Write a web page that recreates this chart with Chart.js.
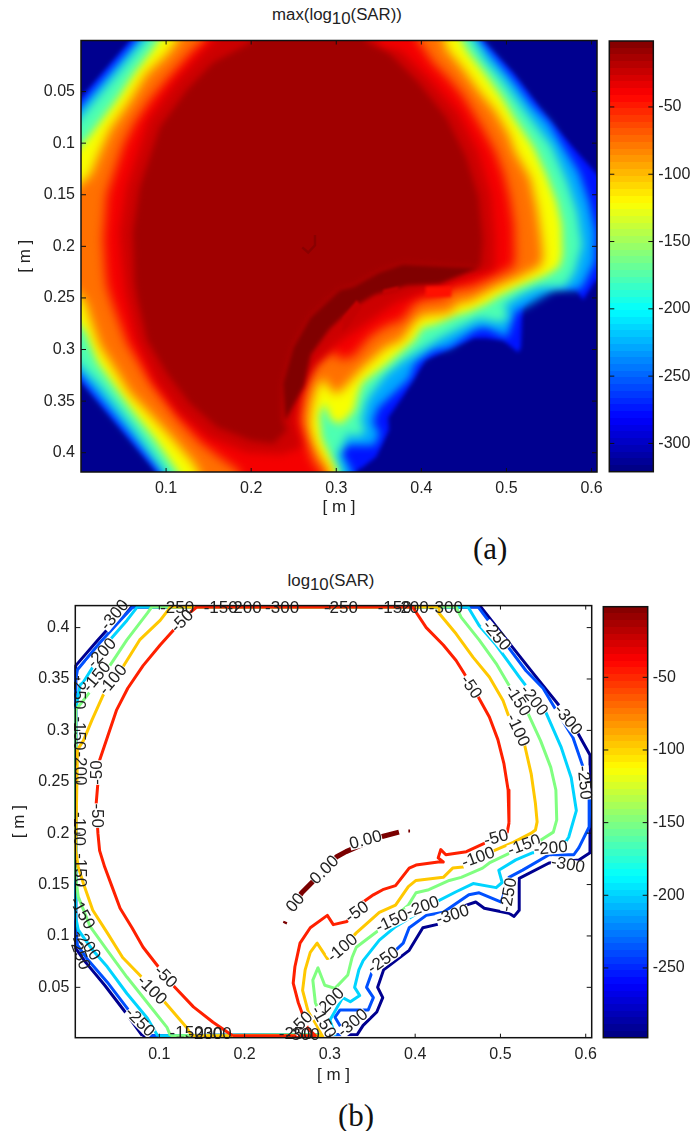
<!DOCTYPE html>
<html>
<head>
<meta charset="utf-8">
<style>
  html, body { margin: 0; padding: 0; background: #fff; }
  body { position: relative; width: 692px; height: 1131px; overflow: hidden; font-family: "Liberation Sans", Arial, sans-serif; color: #222; }
  canvas { position: absolute; }
  .title { position: absolute; font-size: 16px; line-height: 18px; white-space: nowrap; transform: translateX(-50%) scaleX(1.05); }
  .title sub { font-size: 16px; line-height: 0; vertical-align: -4px; }
  .caption { position: absolute; font-family: "Liberation Serif", "Times New Roman", serif; font-size: 31px; line-height: 36px; color: #111; }
</style>
</head>
<body>
<div class="title" style="left:337px;top:6px">max(log<sub>10</sub>(SAR))</div>
<div class="title" style="left:331px;top:572px">log<sub>10</sub>(SAR)</div>
<div class="caption" style="left:473px;top:531px">(a)</div>
<div class="caption" style="left:338px;top:1098px">(b)</div>
<canvas id="chartMax" width="640" height="530" style="left:0;top:0"></canvas>
<canvas id="barMax" width="92" height="530" style="left:600px;top:0"></canvas>
<canvas id="chartLog" width="640" height="500" style="left:0;top:590px"></canvas>
<canvas id="barLog" width="92" height="500" style="left:600px;top:590px"></canvas>

<script src="https://cdn.jsdelivr.net/npm/chart.js@4"></script>
<script>
// --- Axis ticks ---
const xTicks       = [0.1, 0.2, 0.3, 0.4, 0.5, 0.6];
const maxYTicks    = [0.05, 0.1, 0.15, 0.2, 0.25, 0.3, 0.35, 0.4];
const logYTicks    = [0.05, 0.1, 0.15, 0.2, 0.25, 0.3, 0.35, 0.4];
const maxBarTicks  = [-300, -250, -200, -150, -100, -50];
const logBarTicks  = [-250, -200, -150, -100, -50];

// --- (a) max(log10(SAR)): nested level regions, [x, y] in metres ---
const maxLevel300 = [[-.03,.085],[.09,-.03],[.45,-.03],[.474,.002],[.508,.032],[.546,.073],[.578,.104],[.605,.129],[.64,.16],[.64,.235],[.605,.233],[.590,.252],[.582,.242],[.558,.240],[.535,.242],[.519,.259],[.517,.298],[.514,.303],[.496,.291],[.476,.289],[.461,.289],[.405,.310],[.396,.322],[.378,.346],[.361,.366],[.362,.378],[.347,.404],[.331,.414],[.323,.418],[.31,.45],[.11,.45],[.087,.417],[.002,.333],[-.03,.30]];
const maxLevel250 = [[-.03,.093],[.097,-.03],[.44,-.03],[.468,0],[.510,.041],[.530,.063],[.550,.080],[.565,.101],[.585,.128],[.597,.157],[.605,.186],[.604,.215],[.592,.235],[.586,.242],[.557,.242],[.526,.257],[.510,.264],[.501,.288],[.475,.279],[.463,.281],[.433,.298],[.413,.301],[.393,.313],[.386,.328],[.349,.357],[.343,.371],[.351,.381],[.345,.393],[.312,.393],[.306,.400],[.318,.417],[.32,.45],[.118,.45],[.093,.418],[.004,.330],[-.03,.295]];
const maxLevel200 = [[-.03,.105],[.105,-.03],[.44,-.03],[.462,.001],[.475,.019],[.495,.038],[.522,.069],[.553,.103],[.571,.137],[.583,.167],[.589,.199],[.580,.225],[.569,.239],[.538,.240],[.518,.247],[.498,.257],[.502,.269],[.495,.274],[.468,.270],[.448,.278],[.422,.289],[.377,.312],[.358,.325],[.339,.345],[.334,.354],[.329,.371],[.335,.379],[.324,.385],[.315,.381],[.300,.403],[.306,.417],[.31,.45],[.125,.45],[.098,.418],[.062,.377],[.022,.335],[-.03,.29]];
const maxLevel150 = [[-.03,.13],[.009,.094],[.042,.058],[.062,.033],[.086,.007],[.091,0],[.12,-.03],[.43,-.03],[.448,.001],[.454,.011],[.475,.033],[.495,.056],[.510,.077],[.532,.104],[.547,.131],[.559,.157],[.565,.179],[.566,.208],[.562,.220],[.547,.228],[.512,.240],[.487,.250],[.479,.255],[.454,.264],[.440,.267],[.416,.276],[.401,.279],[.392,.291],[.358,.315],[.331,.332],[.326,.342],[.321,.359],[.306,.372],[.294,.369],[.286,.352],[.280,.364],[.283,.386],[.300,.417],[.305,.45],[.135,.45],[.113,.418],[.086,.386],[.062,.361],[.039,.335],[.019,.312],[.005,.283],[-.03,.25]];
const maxLevel100 = [[-.03,.16],[.011,.131],[.021,.111],[.034,.087],[.056,.061],[.077,.033],[.101,.014],[.113,.001],[.13,-.03],[.41,-.03],[.428,.001],[.428,.007],[.448,.027],[.468,.050],[.487,.069],[.503,.092],[.510,.108],[.528,.134],[.536,.163],[.541,.192],[.543,.210],[.541,.218],[.536,.221],[.515,.230],[.487,.240],[.456,.254],[.444,.255],[.433,.264],[.401,.267],[.392,.273],[.377,.291],[.358,.298],[.331,.318],[.306,.340],[.297,.343],[.285,.328],[.277,.337],[.271,.354],[.268,.374],[.274,.393],[.288,.413],[.292,.418],[.3,.45],[.15,.45],[.138,.418],[.132,.410],[.104,.383],[.077,.359],[.057,.342],[.039,.318],[.022,.296],[.011,.270],[.005,.254],[-.03,.22]];
const maxLevel50  = [[.026,.192],[.028,.172],[.030,.150],[.039,.128],[.050,.101],[.063,.080],[.081,.058],[.101,.038],[.116,.024],[.132,.009],[.144,.001],[.16,-.03],[.38,-.03],[.397,.001],[.413,.021],[.433,.038],[.448,.053],[.457,.065],[.475,.090],[.487,.108],[.497,.130],[.504,.153],[.509,.179],[.510,.211],[.508,.220],[.481,.231],[.460,.239],[.436,.242],[.427,.249],[.401,.252],[.393,.255],[.377,.272],[.362,.276],[.351,.281],[.339,.288],[.320,.307],[.304,.310],[.297,.301],[.277,.313],[.265,.328],[.259,.351],[.257,.367],[.263,.386],[.274,.411],[.283,.418],[.285,.45],[.19,.45],[.186,.418],[.163,.405],[.140,.390],[.116,.369],[.097,.349],[.081,.332],[.068,.313],[.054,.294],[.045,.274],[.036,.254],[.030,.238],[.028,.221]];
const maxLevel35  = [[.045,.187],[.053,.143],[.079,.078],[.112,.04],[.143,.012],[.19,-.03],[.345,-.03],[.35,.005],[.376,.01],[.41,.038],[.443,.07],[.467,.108],[.482,.15],[.487,.194],[.486,.222],[.44,.235],[.40,.245],[.37,.255],[.335,.275],[.30,.295],[.275,.315],[.258,.345],[.252,.37],[.26,.395],[.235,.402],[.195,.40],[.15,.385],[.115,.36],[.088,.33],[.065,.29],[.052,.245],[.048,.215]];
const maxLevel20  = [[.061,.187],[.069,.143],[.093,.084],[.125,.048],[.155,.022],[.199,.003],[.21,-.03],[.33,-.03],[.335,.002],[.362,.013],[.397,.042],[.429,.075],[.452,.113],[.467,.152],[.472,.194],[.470,.216],[.468,.221],[.422,.219],[.378,.217],[.350,.225],[.320,.239],[.304,.242],[.269,.269],[.249,.298],[.237,.333],[.237,.369],[.242,.378],[.226,.391],[.199,.388],[.160,.375],[.128,.352],[.101,.323],[.078,.291],[.066,.249],[.063,.233]];
const maxCrescent = [[.468,.221],[.422,.219],[.378,.217],[.350,.225],[.320,.239],[.304,.242],[.269,.269],[.249,.298],[.237,.333],[.240,.369],[.262,.335],[.270,.305],[.292,.280],[.318,.26],[.345,.247],[.383,.238],[.422,.236],[.461,.223]];
const maxStreak   = [[.324,.252],[.330,.259],[.314,.278],[.307,.283],[.308,.269]];
const maxSpot     = [[.355,.242],[.373,.239],[.373,.244],[.355,.247]];
const maxPatch    = [[.405,.239],[.435,.239],[.435,.249],[.405,.249]];
const maxRing     = [[.275,.189],[.275,.199],[.267,.206],[.260,.201]];

// --- (b) log10(SAR): contour lines, [x, y] in metres ---
const contour300 = [[.080,.003],[.060,.026],[.036,.052],[.013,.075],[.002,.088],[.002,.363],[.028,.388],[.052,.410],[.066,.420],[.477,.420],[.515,.380],[.538,.356],[.569,.324],[.591,.297],[.605,.276],[.605,.181],[.592,.174],[.557,.171],[.522,.156],[.522,.125],[.516,.119],[.510,.122],[.481,.127],[.471,.133],[.460,.130],[.430,.112],[.409,.108],[.393,.086],[.363,.067],[.356,.050],[.362,.040],[.355,.026],[.339,.013],[.332,.004],[.080,.003]];
const contour250 = [[.087,.003],[.062,.030],[.039,.055],[.016,.077],[.004,.091],[.002,.109],[.002,.349],[.004,.359],[.030,.385],[.054,.407],[.069,.420],[.474,.420],[.510,.380],[.530,.358],[.550,.341],[.565,.320],[.585,.293],[.597,.264],[.605,.235],[.604,.206],[.592,.186],[.586,.179],[.557,.179],[.526,.164],[.510,.157],[.501,.133],[.475,.142],[.463,.140],[.433,.123],[.413,.120],[.393,.108],[.386,.093],[.349,.064],[.343,.050],[.351,.040],[.345,.028],[.312,.028],[.306,.021],[.318,.004],[.087,.003]];
const contour200 = [[.098,.003],[.086,.020],[.062,.044],[.039,.070],[.022,.086],[.005,.106],[.002,.118],[.002,.320],[.007,.344],[.011,.347],[.042,.388],[.062,.407],[.074,.420],[.462,.420],[.475,.402],[.495,.383],[.522,.352],[.553,.318],[.571,.284],[.583,.254],[.589,.222],[.580,.196],[.569,.182],[.538,.181],[.518,.174],[.498,.164],[.502,.152],[.495,.147],[.468,.151],[.448,.143],[.422,.132],[.377,.109],[.358,.096],[.339,.076],[.334,.067],[.329,.050],[.335,.042],[.324,.036],[.315,.040],[.300,.018],[.306,.004],[.098,.003]];
const contour150 = [[.113,.003],[.109,.011],[.086,.035],[.062,.060],[.039,.086],[.019,.109],[.005,.138],[.002,.157],[.002,.320],[.009,.327],[.042,.363],[.062,.388],[.086,.414],[.091,.420],[.448,.420],[.454,.410],[.475,.388],[.495,.365],[.510,.344],[.532,.317],[.547,.290],[.559,.264],[.565,.242],[.566,.213],[.562,.201],[.547,.193],[.512,.181],[.487,.171],[.479,.166],[.454,.157],[.440,.154],[.416,.145],[.401,.142],[.392,.130],[.358,.106],[.331,.089],[.326,.079],[.321,.062],[.306,.049],[.294,.052],[.286,.069],[.280,.057],[.283,.035],[.300,.004],[.113,.003]];
const contour100 = [[.138,.003],[.132,.011],[.104,.038],[.077,.062],[.057,.079],[.039,.103],[.022,.125],[.011,.151],[.005,.167],[.002,.183],[.004,.281],[.011,.290],[.021,.310],[.034,.334],[.056,.360],[.077,.388],[.101,.407],[.113,.420],[.428,.420],[.428,.414],[.448,.394],[.468,.371],[.487,.352],[.503,.329],[.510,.313],[.528,.287],[.536,.258],[.541,.229],[.543,.211],[.541,.203],[.536,.200],[.515,.191],[.487,.181],[.456,.167],[.444,.166],[.433,.157],[.401,.154],[.392,.148],[.377,.130],[.358,.123],[.331,.103],[.306,.081],[.297,.078],[.285,.093],[.277,.084],[.271,.067],[.268,.047],[.274,.028],[.288,.008],[.292,.003],[.138,.003]];
const contour50  = [[.186,.003],[.163,.016],[.140,.031],[.116,.052],[.097,.072],[.081,.089],[.068,.108],[.054,.127],[.045,.147],[.036,.167],[.030,.183],[.028,.200],[.026,.229],[.028,.249],[.030,.271],[.039,.293],[.050,.320],[.063,.341],[.081,.363],[.101,.383],[.116,.397],[.132,.412],[.144,.420],[.397,.420],[.413,.400],[.433,.383],[.448,.368],[.457,.356],[.475,.331],[.487,.313],[.497,.291],[.504,.268],[.509,.242],[.510,.210],[.508,.201],[.481,.190],[.460,.182],[.436,.179],[.430,.184],[.427,.176],[.433,.172],[.427,.172],[.401,.169],[.393,.166],[.377,.149],[.362,.145],[.351,.140],[.339,.133],[.320,.114],[.304,.111],[.297,.120],[.277,.108],[.265,.093],[.259,.070],[.257,.054],[.263,.035],[.274,.010],[.283,.003],[.186,.003]];
const contourTip1 = [[.247,.112],[.248,.114]];
const contourTip2 = [[.253,.125],[.267,.142],[.285,.157],[.308,.177],[.319,.182],[.358,.196],[.381,.201]];
const contourTip3 = [[.392,.202],[.394,.202]];

// contour labels: [text, x, y, rotation in degrees]
const lineLabels = [
  ["-300",.048,.412,-50],["-200",.033,.375,-47],["-150",.027,.352,-50],["-100",.046,.349,-50],
  ["-50",.127,.406,-45],["-50",.027,.259,-90],["-50",.027,.217,90],
  ["-250",.495,.392,50],["-50",.465,.342,55],["-150",.520,.329,58],["-200",.539,.329,52],
  ["-100",.520,.300,65],["-300",.579,.310,50],["-250",.598,.249,85],
  ["-50",.495,.195,-15],["-100",.474,.176,-20],["-150",.528,.188,-20],["-200",.559,.185,-5],
  ["-300",.579,.169,10],["-250",.510,.140,-80],["-300",.444,.120,-18],["-200",.409,.128,-20],
  ["-150",.373,.114,-25],["-250",.363,.076,-35],["-50",.332,.123,-35],["-100",.315,.088,-40],
  ["-200",.300,.035,-45],["-150",.292,.016,60],["-300",.327,.015,-40],["-50",.267,.015,-45],
  ["-50",.107,.060,45],["-100",.091,.047,45],["-250",.077,.016,45],
  ["00",.260,.132,-50],["0.00",.294,.164,-45],["0.00",.342,.193,-15]
];
const edgeLabels = [
  ["-250",.121,.419,0],["-150",.172,.419,0],["-200",.200,.419,0],["-300",.244,.419,0],
  ["-250",.313,.419,0],["-150",.376,.419,0],["-200",.396,.419,0],["-300",.436,.419,0],
  ["-250",.005,.337,90],["-150",.005,.297,90],["-200",.007,.263,90],["-100",.006,.204,90],
  ["-150",.007,.164,90],["-150",.009,.122,60],["-200",.015,.091,55],["-250",.006,.083,70],
  ["-250",.260,.004,0],["-300",.268,.003,0],["-150",.132,.005,0],["-200",.154,.004,0],["-300",.165,.004,0]
];

// --- Colour helpers ---
function jet(t) {
  const c = v => Math.round(255 * Math.max(0, Math.min(1, v)));
  return `rgb(${c(1.5 - Math.abs(4 * t - 3))},${c(1.5 - Math.abs(4 * t - 2))},${c(1.5 - Math.abs(4 * t - 1))})`;
}

function barGradient(context) {
  const { chart } = context;
  const area = chart.chartArea;
  if (!area || !Number.isFinite(area.top)) return "#800000";
  const g = chart.ctx.createLinearGradient(0, area.bottom, 0, area.top);
  for (let i = 0; i < 64; i++) {
    g.addColorStop(i / 64, jet((i + 0.5) / 64));
    g.addColorStop((i + 1) / 64, jet((i + 0.5) / 64));
  }
  return g;
}

const pts = list => list.map(([x, y]) => ({ x, y }));

// --- Plugins ---
const regionFill = {
  id: "regionFill",
  beforeDatasetsDraw(chart) {
    const { ctx, chartArea: a } = chart;
    ctx.save();
    ctx.beginPath();
    ctx.rect(a.left, a.top, a.right - a.left, a.bottom - a.top);
    ctx.clip();
    ctx.fillStyle = "#00008f";
    ctx.fillRect(a.left, a.top, a.right - a.left, a.bottom - a.top);
    chart.data.datasets.forEach((ds, i) => {
      if (!ds.region) return;
      const points = chart.getDatasetMeta(i).data;
      ctx.filter = `blur(${ds.soft}px)`;
      ctx.fillStyle = ds.region;
      ctx.beginPath();
      points.forEach((p, k) => k ? ctx.lineTo(p.x, p.y) : ctx.moveTo(p.x, p.y));
      ctx.closePath();
      ctx.fill();
    });
    ctx.restore();
  }
};

const contourText = {
  id: "contourText",
  afterDatasetsDraw(chart) {
    if (chart.canvas.id !== "chartLog") return;
    const { ctx, scales } = chart;
    const draw = (item, backed) => {
      const [text, x, y, rot] = item;
      ctx.save();
      ctx.translate(scales.x.getPixelForValue(x), scales.y.getPixelForValue(y));
      ctx.rotate(rot * Math.PI / 180);
      ctx.font = '17px "Liberation Sans"';
      ctx.textAlign = "center";
      ctx.textBaseline = "middle";
      if (backed) {
        const w = ctx.measureText(text).width;
        ctx.fillStyle = "#fff";
        ctx.fillRect(-w / 2, -6, w, 12);
      }
      ctx.fillStyle = "#222";
      ctx.fillText(text, 0, 0);
      ctx.restore();
    };
    lineLabels.forEach(l => draw(l, true));
    edgeLabels.forEach(l => draw(l, false));
  }
};

// box plus inward tick marks, on all sides like MATLAB
const frameTicks = {
  id: "frameTicks",
  afterDraw(chart) {
    const { ctx, chartArea: a, scales } = chart;
    const len = 4;
    ctx.save();
    ctx.strokeStyle = "#111";
    ctx.lineWidth = 1;
    ctx.beginPath();
    if (scales.x && scales.x.type === "linear") {
      scales.x.ticks.forEach(t => {
        const px = scales.x.getPixelForValue(t.value);
        ctx.moveTo(px, a.top); ctx.lineTo(px, a.top + len);
        ctx.moveTo(px, a.bottom); ctx.lineTo(px, a.bottom - len);
      });
    }
    scales.y.ticks.forEach(t => {
      const py = scales.y.getPixelForValue(t.value);
      ctx.moveTo(a.left, py); ctx.lineTo(a.left + len + 1, py);
      ctx.moveTo(a.right, py); ctx.lineTo(a.right - len - 1, py);
    });
    ctx.stroke();
    ctx.lineWidth = 1.5;
    ctx.strokeRect(a.left, a.top, a.right - a.left, a.bottom - a.top);
    ctx.restore();
  }
};

Chart.defaults.font.family = '"Liberation Sans", Arial, sans-serif';
Chart.defaults.font.size   = 16;
Chart.defaults.color       = "#222";

// --- Chart builders ---
function plotChart(id, datasets, opt) {
  return new Chart(document.getElementById(id), {
    type: "scatter",
    data: { datasets },
    plugins: [regionFillIf(opt.filled), contourText, frameTicks],
    options: {
      responsive: false,
      animation: false,
      devicePixelRatio: 1,
      events: [],
      layout: { autoPadding: false, padding: { top: opt.top, right: opt.right, left: 0, bottom: 0 } },
      plugins: { legend: { display: false }, tooltip: { enabled: false } },
      scales: {
        x: {
          type: "linear", min: opt.xMin, max: opt.xMax,
          grid: { display: false, drawTicks: false }, border: { display: false },
          ticks: { padding: 7, maxRotation: 0, minRotation: 0, autoSkip: false, callback: v => String(v) },
          afterBuildTicks: s => { s.ticks = xTicks.map(value => ({ value })); },
          afterFit: s => { s.height = opt.xHeight; },
          title: { display: true, text: "[ m ]", font: { size: 17 }, color: "#222", padding: { top: 0, bottom: opt.xTitlePad } }
        },
        y: {
          type: "linear", min: opt.yMin, max: opt.yMax, reverse: opt.reverse,
          grid: { display: false, drawTicks: false }, border: { display: false },
          ticks: { padding: 6, autoSkip: false, callback: v => String(v) },
          afterBuildTicks: s => { s.ticks = opt.yTicks.map(value => ({ value })); },
          afterFit: s => { s.width = opt.left; },
          title: { display: true, text: "[ m ]", font: { size: 17 }, color: "#222", padding: { top: opt.yTitlePad, bottom: 0 } }
        }
      }
    }
  });
}

function regionFillIf(filled) {
  return filled ? regionFill : { id: "noRegion" };
}

function barChart(id, low, high, ticks, opt) {
  return new Chart(document.getElementById(id), {
    type: "bar",
    data: {
      labels: [""],
      datasets: [{ data: [[low, high]], backgroundColor: barGradient, categoryPercentage: 1, barPercentage: 1 }]
    },
    plugins: [frameTicks],
    options: {
      responsive: false,
      animation: false,
      devicePixelRatio: 1,
      events: [],
      layout: { autoPadding: false, padding: { top: opt.top, left: opt.left, right: 0, bottom: opt.bottom } },
      plugins: { legend: { display: false }, tooltip: { enabled: false } },
      scales: {
        x: { display: false },
        y: {
          position: "right", min: low, max: high,
          grid: { display: false, drawTicks: false }, border: { display: false },
          ticks: { padding: 5, autoSkip: false, callback: v => String(v) },
          afterBuildTicks: s => { s.ticks = ticks.map(value => ({ value })); },
          afterFit: s => { s.width = opt.width; }
        }
      }
    }
  });
}

// --- (a) ---
function region(list, colour, soft) {
  return { data: pts(list), region: colour, soft, pointRadius: 0, showLine: false };
}

plotChart("chartMax", [
  region(maxLevel300, "#0014ff", 2),
  region(maxLevel250, "#00a8ff", 4.5),
  region(maxLevel200, "#4dffb2", 5),
  region(maxLevel150, "#f8ff00", 4.5),
  region(maxLevel100, "#ff7000", 5.5),
  region(maxLevel50,  "#f50000", 5.5),
  region(maxLevel35,  "#cc0000", 4),
  region(maxLevel20,  "#a00000", 3),
  region(maxCrescent, "#800000", 2),
  region(maxStreak,   "#c40000", 1),
  region(maxSpot,     "#c40000", 1),
  region(maxPatch,    "#ff1000", 1.5),
  { data: pts(maxRing), showLine: true, borderColor: "#8a0000", borderWidth: 2.5, pointRadius: 0 }
], {
  filled: true, top: 40.5, right: 43, left: 81, xHeight: 58, xTitlePad: 12, yTitlePad: 15,
  xMin: 0, xMax: 0.6064, yMin: 0.0005, yMax: 0.4187, reverse: true, yTicks: maxYTicks
});
barChart("barMax", -321, -1, maxBarTicks, { top: 41, left: 9.3, bottom: 58.3, width: 38.7 });

// --- (b) ---
function contour(list, colour, width) {
  return { data: pts(list), showLine: true, borderColor: colour, borderWidth: width, borderJoinStyle: "round", pointRadius: 0, tension: 0, clip: 4 };
}

// Chart.js paints the first dataset last, so -50 goes first to sit on top along the edges
plotChart("chartLog", [
  contour(contourTip1, "#7a0000", 4),
  contour(contourTip2, "#7a0000", 5),
  contour(contourTip3, "#7a0000", 3),
  contour(contour50,  "#ff2000", 3),
  contour(contour100, "#ffc800", 3),
  contour(contour150, "#80ff80", 3),
  contour(contour200, "#00d4ff", 3),
  contour(contour250, "#0050ff", 3),
  contour(contour300, "#000090", 3)
], {
  filled: false, top: 15.3, right: 48.3, left: 75.3, xHeight: 52.3, xTitlePad: 4, yTitlePad: 9,
  xMin: 0.0015, xMax: 0.607, yMin: 0.001, yMax: 0.4214, reverse: false, yTicks: logYTicks
});
barChart("barLog", -298, -1.4, logBarTicks, { top: 16.7, left: 3.3, bottom: 52.3, width: 44.3 });
</script>
</body>
</html>
